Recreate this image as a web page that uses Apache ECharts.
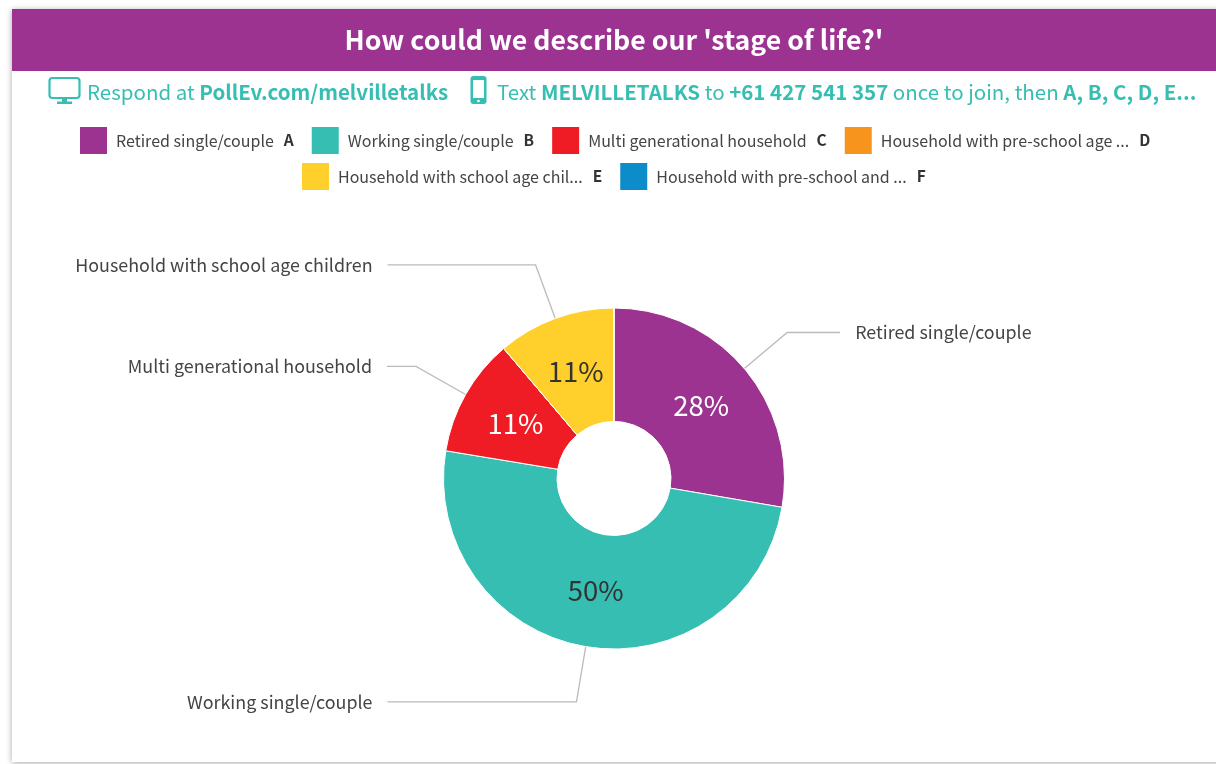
<!DOCTYPE html>
<html><head><meta charset="utf-8">
<style>html,body{margin:0;padding:0;background:#fff}#c{width:1216px;height:764px}</style>
<script src="https://cdn.jsdelivr.net/npm/echarts@6/dist/echarts.min.js"></script>
</head><body><div id="c"></div>
<script>
const categories = ['Retired single/couple','Working single/couple','Multi generational household','Household with pre-school age children','Household with school age children','Household with pre-school and school age children'];
const legendLabels = ['Retired single/couple','Working single/couple','Multi generational household','Household with pre-school age ...','Household with school age chil...','Household with pre-school and ...'];
const letters = ['A','B','C','D','E','F'];
const shares = [27.7,49.9,11.2,0,11.2,0];
const colors = ['#9C3391','#36BEB3','#EF1C25','#F7941E','#FFD02C','#0C8CC8'];
const insideColors = ['#fff','#333','#fff','#333','#333','#333'];
const insideNudges = [[-2,2],[1,-3],[3,3],[0,0],[2,3],[0,0]];
const leaderLengths = [56,56,57,56,57,56];
const leaderTails = [53,189,29,0,148,0];
const titleText = "How could we describe our 'stage of life?'";
const FONT = '"Noto Sans CJK SC","Noto Sans",sans-serif';
const TEAL = '#36BEB3';

const chart = echarts.init(document.getElementById('c'), null, {renderer:'canvas'});
const legendBase = {
  orient:'horizontal', icon:'rect', itemWidth:27, itemHeight:27, itemGap:18,
  selectedMode:false,
  itemStyle:{borderWidth:0},
  formatter:n=>{const i=categories.indexOf(n);return '{t|'+legendLabels[i]+'}{l|'+letters[i]+'}';},
  textStyle:{rich:{
    t:{fontFamily:FONT,fontSize:16,color:'#444',padding:[0,10,0,4]},
    l:{fontFamily:FONT,fontSize:15.5,fontWeight:'bold',color:'#333'}
  }}
};
chart.setOption({
  animation:false,
  backgroundColor:'#fff',
  color:colors,
  title:[
    {text:titleText,left:609,top:22,textAlign:'center',textStyle:{fontFamily:FONT,fontSize:26.7,fontWeight:'bold',color:'#fff'}},
    {text:'Respond at {b|PollEv.com/melvilletalks}',left:82,top:77,
     textStyle:{fontFamily:FONT,fontSize:20.5,fontWeight:'normal',color:TEAL,
       rich:{b:{fontFamily:FONT,fontSize:20.5,fontWeight:'bold',color:TEAL}}}},
    {text:'Text {b|MELVILLETALKS} to {b|+61 427 541 357} once to join, then {b|A, B, C, D, E...}',left:492,top:77,
     textStyle:{fontFamily:FONT,fontSize:20.5,fontWeight:'normal',color:TEAL,
       rich:{b:{fontFamily:FONT,fontSize:20.5,fontWeight:'bold',color:TEAL}}}}
  ],
  legend:[
    Object.assign({},legendBase,{left:75,top:122,data:categories.slice(0,4)}),
    Object.assign({},legendBase,{left:297,top:158,data:categories.slice(4)})
  ],
  graphic:[
    {type:'rect',z:-10,silent:true,shape:{x:12,y:9,width:1220,height:753},
     style:{fill:'#fff',shadowBlur:6,shadowColor:'rgba(0,0,0,0.35)',shadowOffsetY:1}},
    {type:'rect',z:-9,silent:true,shape:{x:12,y:9,width:1204,height:62},style:{fill:'#9C3391'}},
    {type:'rect',silent:true,shape:{x:49.5,y:78,width:30,height:20,r:3},style:{fill:'none',stroke:TEAL,lineWidth:2.2}},
    {type:'rect',silent:true,shape:{x:62,y:98,width:5,height:5},style:{fill:TEAL}},
    {type:'rect',silent:true,shape:{x:57,y:101.5,width:15,height:2.5},style:{fill:TEAL}},
    {type:'rect',silent:true,shape:{x:470.5,y:76,width:16,height:28,r:3},style:{fill:TEAL}},
    {type:'rect',silent:true,shape:{x:473,y:80,width:11,height:18},style:{fill:'#fff'}},
    {type:'circle',silent:true,shape:{cx:478.5,cy:101,r:1.3},style:{fill:'#fff'}}
  ],
  series:[
    {type:'pie',center:[614,478.5],radius:[57,170.5],startAngle:90,clockwise:true,
     avoidLabelOverlap:false,silent:true,
     itemStyle:{borderColor:'#fff',borderWidth:1},
     label:{show:true,position:'outside',fontFamily:FONT,fontSize:17.9,color:'#444',distanceToLabelLine:15,formatter:'{b}'},
     labelLine:{show:true,lineStyle:{color:'#BBB',width:1.3},smooth:false},
     data:categories.map((n,i)=>({
       name:n,value:shares[i],itemStyle:{color:colors[i]},
       label:{show:shares[i]>0},
       labelLine:{show:shares[i]>0,length:leaderLengths[i],length2:leaderTails[i]}
     }))},
    {type:'pie',center:[614,478.5],radius:[57,170.5],startAngle:90,clockwise:true,
     avoidLabelOverlap:false,silent:true,percentPrecision:0,z:5,
     itemStyle:{color:'transparent',borderWidth:0},
     label:{show:true,position:'inside',fontFamily:FONT,fontSize:27.5,padding:[4,0,0,0],formatter:'{d}%'},
     labelLine:{show:false},
     data:categories.map((n,i)=>({
       name:n,value:shares[i],itemStyle:{color:'transparent'},
       label:{show:shares[i]>0,color:insideColors[i],offset:insideNudges[i]}
     }))}
  ]
});
</script></body></html>
